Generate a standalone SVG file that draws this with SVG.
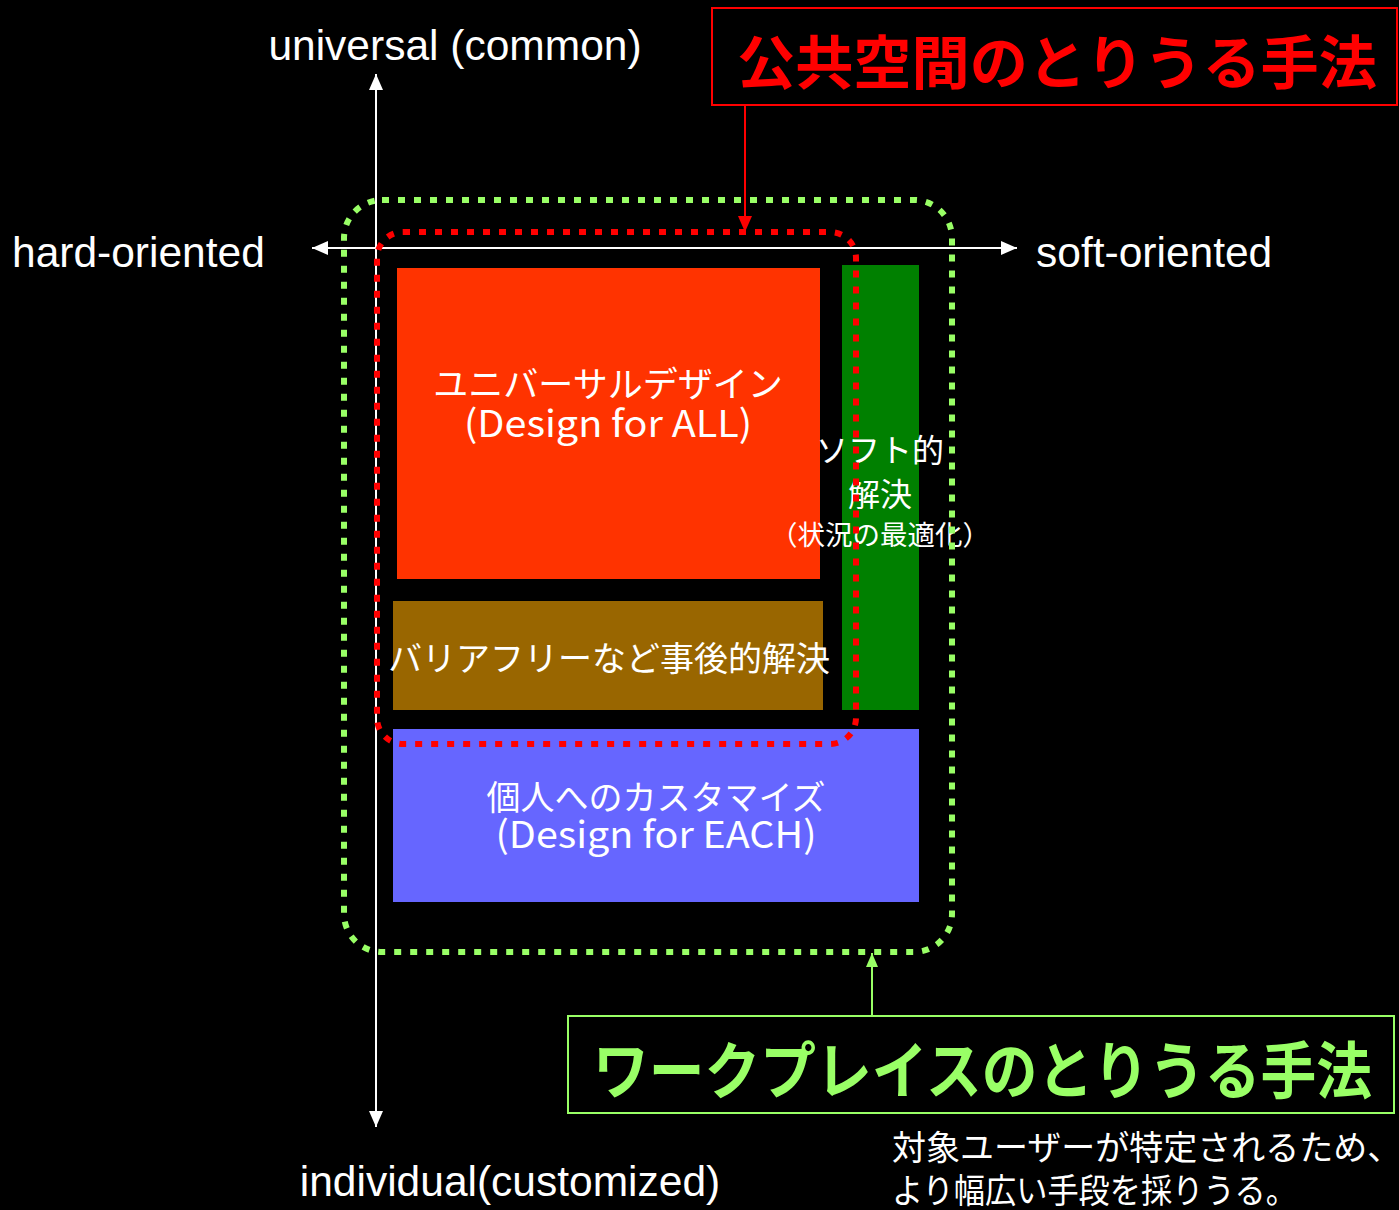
<svg xmlns="http://www.w3.org/2000/svg" width="1399" height="1210" viewBox="0 0 1399 1210">
<style>
.lbl{font-family:"Liberation Sans","Noto Sans CJK JP",sans-serif;fill:#fff;font-size:42.5px}
.jp{font-family:"Noto Sans CJK JP","Liberation Sans",sans-serif;fill:#fff}
.axis{stroke:#fff;stroke-width:2;fill:none}
</style>
<defs>
<marker id="wa" viewBox="0 0 10 10" refX="10" refY="5" markerWidth="16" markerHeight="14" markerUnits="userSpaceOnUse" orient="auto-start-reverse" preserveAspectRatio="none"><path d="M0,0L10,5L0,10z" fill="#fff"/></marker>
<marker id="ra" viewBox="0 0 10 10" refX="10" refY="5" markerWidth="16" markerHeight="14" markerUnits="userSpaceOnUse" orient="auto" preserveAspectRatio="none"><path d="M0,0L10,5L0,10z" fill="#f00"/></marker>
<marker id="ga" viewBox="0 0 10 10" refX="10" refY="5" markerWidth="14" markerHeight="12" markerUnits="userSpaceOnUse" orient="auto" preserveAspectRatio="none"><path d="M0,0L10,5L0,10z" fill="#99ff66"/></marker>
</defs>
<rect width="1399" height="1210" fill="#000"/>
<g id="axes">
<line class="axis" x1="376" y1="74" x2="376" y2="1127" marker-start="url(#wa)" marker-end="url(#wa)"/>
<line class="axis" x1="312" y1="248" x2="1017" y2="248" marker-start="url(#wa)" marker-end="url(#wa)"/>
</g>
<g id="labels">
<text class="lbl" x="455" y="60" text-anchor="middle">universal (common)</text>
<text class="lbl" x="12" y="267">hard-oriented</text>
<text class="lbl" x="1036" y="267">soft-oriented</text>
<text class="lbl" x="510" y="1196" text-anchor="middle">individual(customized)</text>
</g>
<g id="universal-design">
<rect x="397" y="268" width="423" height="311" fill="#ff3300"/>
<text class="jp" x="608" y="397" text-anchor="middle" font-size="35">ユニバーサルデザイン</text>
<text class="jp" x="608" y="437" text-anchor="middle" font-size="37" textLength="288" lengthAdjust="spacingAndGlyphs">(Design for ALL)</text>
</g>
<g id="soft-solution">
<rect x="842" y="265" width="77" height="445" fill="#008000"/>
<text class="jp" x="880" y="462" text-anchor="middle" font-size="32">ソフト的</text>
<text class="jp" x="880" y="506" text-anchor="middle" font-size="32">解決</text>
<text class="jp" x="880" y="545" text-anchor="middle" font-size="27" textLength="220" lengthAdjust="spacingAndGlyphs">（状況の最適化）</text>
</g>
<g id="barrier-free">
<rect x="393" y="601" width="430" height="109" fill="#996600"/>
<text class="jp" x="609" y="671" text-anchor="middle" font-size="34">バリアフリーなど事後的解決</text>
</g>
<g id="design-for-each">
<rect x="393" y="729" width="526" height="173" fill="#6666ff"/>
<text class="jp" x="656" y="810" text-anchor="middle" font-size="34">個人へのカスタマイズ</text>
<text class="jp" x="656" y="848" text-anchor="middle" font-size="37" textLength="321" lengthAdjust="spacingAndGlyphs">(Design for EACH)</text>
</g>
<g id="regions">
<rect x="344" y="200" width="608" height="752" rx="38" fill="none" stroke="#99ff66" stroke-width="6" stroke-dasharray="7 9"/>
<rect x="377" y="232" width="479" height="512" rx="26" fill="none" stroke="#ff0000" stroke-width="6" stroke-dasharray="7 9"/>
</g>
<g id="public-title">
<rect x="712" y="8" width="685" height="97" fill="none" stroke="#ff0000" stroke-width="2"/>
<text class="jp" x="737" y="84" font-size="58" font-weight="bold" textLength="640" lengthAdjust="spacingAndGlyphs" style="fill:#ff0000">公共空間のとりうる手法</text>
</g>
<g id="workplace-title">
<rect x="568" y="1016" width="826" height="97" fill="none" stroke="#99ff66" stroke-width="2"/>
<text class="jp" x="593" y="1094" font-size="62" font-weight="bold" textLength="779" lengthAdjust="spacingAndGlyphs" style="fill:#99ff66">ワークプレイスのとりうる手法</text>
</g>
<g id="note">
<text class="jp" x="892" y="1160" font-size="34">対象ユーザーが特定されるため、</text>
<text class="jp" x="892" y="1203" font-size="34" textLength="405" lengthAdjust="spacingAndGlyphs">より幅広い手段を採りうる。</text>
</g>
<g id="connectors">
<line x1="745" y1="105" x2="745" y2="232" stroke="#ff0000" stroke-width="2" marker-end="url(#ra)"/>
<line x1="872" y1="1016" x2="872" y2="953" stroke="#99ff66" stroke-width="2" marker-end="url(#ga)"/>
</g>
</svg>
